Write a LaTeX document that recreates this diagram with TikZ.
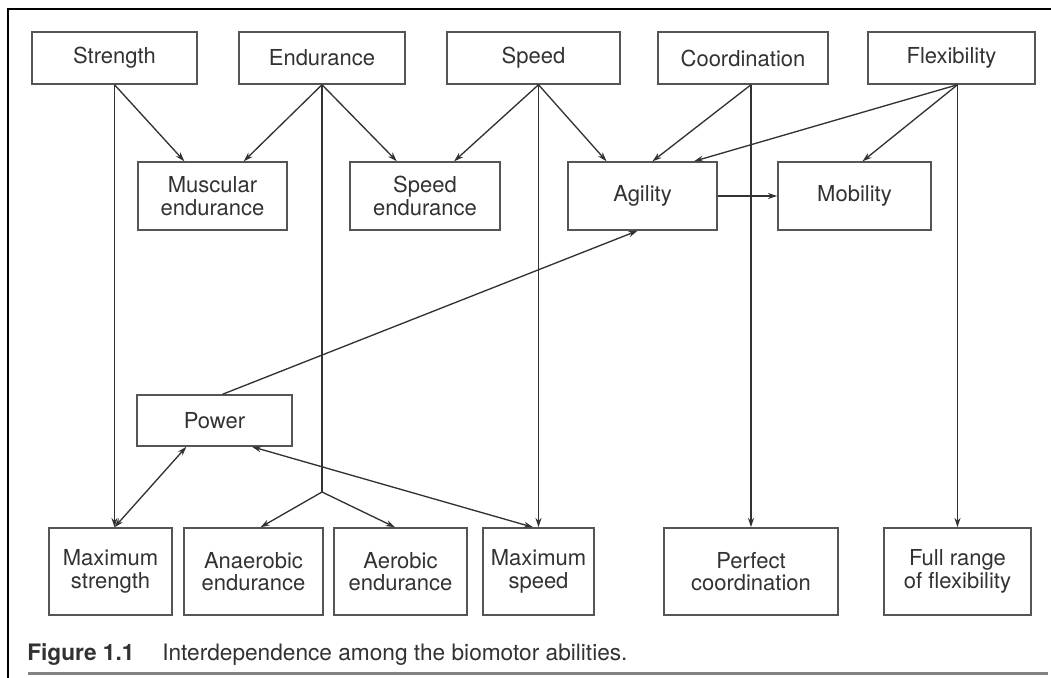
\documentclass[tikz,border=0pt]{standalone}
\usepackage{fontspec}
\setmainfont{TeX Gyre Heros}
\usetikzlibrary{arrows.meta,calc}
\definecolor{boxgray}{RGB}{85,85,85}
\definecolor{inkgray}{RGB}{50,50,50}
\definecolor{rulegray}{RGB}{130,130,130}

\begin{document}
\begin{tikzpicture}[x=0.75pt,y=0.75pt,yscale=-1,xscale=1,
  ability/.style={draw=boxgray,line width=1.1pt,text=inkgray,align=center,inner sep=0pt,
    font=\fontsize{16.5}{17}\selectfont},
  topbox/.style={ability,minimum height=39pt},
  midbox/.style={ability,minimum height=51pt},
  lowbox/.style={ability,minimum height=65.25pt},
  link/.style={draw=inkgray,line width=1pt,-{Stealth[length=7pt,width=4.5pt]}},
  twoway/.style={link,{Stealth[length=7pt,width=4.5pt]}-{Stealth[length=7pt,width=4.5pt]}},
  wire/.style={draw=inkgray,line width=1pt},
  caption/.style={text=inkgray,inner sep=0pt,font=\fontsize{17}{20}\selectfont}]
\useasboundingbox (0,0) rectangle (1051,678);

%Frame
\draw [line width=2pt] (1051,9) -- (8,9) -- (8,678) ;
\draw [draw=rulegray,line width=2.25pt] (28,673) -- (1048,673) ;

%Top row
\node [topbox,minimum width=123.75pt] (strength) at (114.5,58) {Strength};
\node [topbox,minimum width=124.5pt] (endur) at (322,58) {Endurance};
\node [topbox,minimum width=129.75pt] (speed) at (533.5,58) {Speed};
\node [topbox,minimum width=127.5pt] (coord) at (743,58) {Coordination};
\node [topbox,minimum width=125.25pt] (flex) at (951.5,58) {Flexibility};

%Middle row
\node [midbox,minimum width=111.75pt] (musc) at (212.5,196) {Muscular\\endurance};
\node [midbox,minimum width=112.5pt] (spend) at (425,196) {Speed\\endurance};
\node [midbox,minimum width=111.75pt] (agil) at (642.5,196) {Agility};
\node [midbox,minimum width=114.75pt] (mob) at (854.5,196) {Mobility};

%Power
\node [ability,minimum width=116.25pt,minimum height=38.25pt] (power) at (214.5,420.5) {Power};

%Bottom row
\node [lowbox,minimum width=92.25pt] (maxstr) at (110.5,571.5) {Maximum\\strength};
\node [lowbox,minimum width=104.25pt] (anaer) at (253.5,571.5) {Anaerobic\\endurance};
\node [lowbox,minimum width=99.75pt] (aer) at (400.5,571.5) {Aerobic\\endurance};
\node [lowbox,minimum width=83.25pt] (maxspd) at (538.5,571.5) {Maximum\\speed};
\node [lowbox,minimum width=130.5pt] (perf) at (751,571.5) {Perfect\\coordination};
\node [lowbox,minimum width=110.25pt] (full) at (957.5,571.5) {Full range\\of flexibility};

%Branch points
\coordinate (fork) at (322,492);
\coordinate (spd) at (speed.south -| maxspd.north);
\coordinate (crd) at (coord.south -| perf.north);
\coordinate (flx) at (flex.south -| full.north);
\coordinate (strtop) at (strength.south |- maxstr.north);

%Straight Lines
\draw [link] (strength.south) -- (musc.129);
\draw [link] (strength.south) -- (strtop);
\draw [link] (endur.south) -- (musc.48);
\draw [link] (endur.south) -- (spend.129.5);
\draw [wire] (endur.south) -- (fork);
\draw [link] (fork) -- (anaer.81.5);
\draw [link] (fork) -- (aer.97.2);
\draw [link] (spd) -- (spend.50.5);
\draw [link] (spd) -- (agil.136.2);
\draw [link] (spd) -- (maxspd.north);
\draw [link] (crd) -- (agil.74.4);
\draw [link] (crd) -- (perf.north);
\draw [link] (flx) -- (agil.34);
\draw [link] (flx) -- (mob.77.5);
\draw [link] (flx) -- (full.north);
\draw [link] (agil.east) -- (mob.west);
\draw [link] (power.73.6) -- (agil.262.5);
\draw [twoway] (power.223.9) -- (strtop);
\draw [twoway] (power.-35.7) -- (maxspd.97.2);

% Text Node
\node [caption,anchor=base west] (figno) at (27,660) {\bfseries Figure 1.1};
\node [caption,anchor=base west] (figtext) at (162,660) {Interdependence among the biomotor abilities.};

\end{tikzpicture}
\end{document}
